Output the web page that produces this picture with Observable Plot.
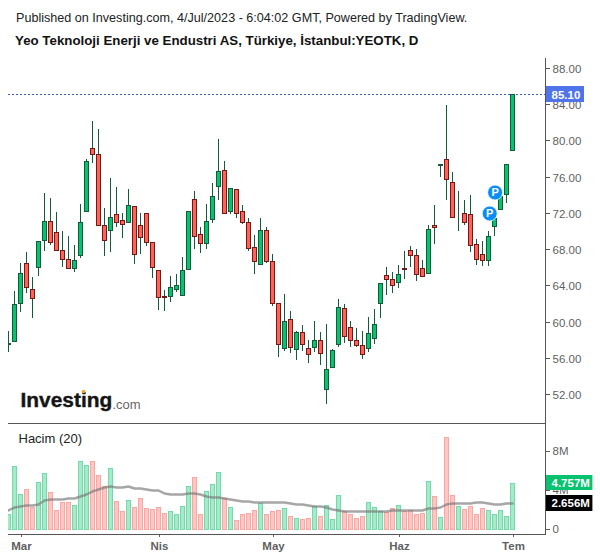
<!DOCTYPE html>
<html><head><meta charset="utf-8">
<script src="https://cdn.jsdelivr.net/npm/d3@7"></script>
<script src="https://cdn.jsdelivr.net/npm/@observablehq/plot@0.6"></script>
<style>
html,body{margin:0;padding:0;background:#fff;width:600px;overflow:hidden}
#head{height:56px;position:relative;font-family:"Liberation Sans",Arial,sans-serif;color:#222}
#l1{position:absolute;left:16px;top:11px;font-size:12.6px;white-space:nowrap}
#l2{position:absolute;left:15px;top:33px;font-size:13.3px;font-weight:bold;color:#111;white-space:nowrap}
svg{display:block}
</style></head><body>
<div id="head"><div id="l1">Published on Investing.com, 4/Jul/2023 - 6:04:02 GMT, Powered by TradingView.</div>
<div id="l2">Yeo Teknoloji Enerji ve Endustri AS, Türkiye, İstanbul:YEOTK, D</div></div>
<div id="price"></div><div id="vol"></div>
<script>
const opens=[57.54,57.84,62.03,66.44,63.57,65.98,68.98,71.08,69.87,67.88,66.89,65.96,67.39,72.18,79.14,78.48,70.64,70.09,71.85,71.19,70.97,72.73,70.64,71.96,68.76,65.67,62.84,62.87,63.64,62.98,65.78,73.50,69.65,68.65,71.30,74.94,76.71,72.18,74.61,72.18,70.97,68.21,66.33,70.09,66.66,62.03,57.06,60.26,56.95,58.83,57.06,57.17,57.94,52.54,54.96,57.50,61.48,59.38,57.94,57.39,57.06,58.17,62.03,65.12,64.68,64.35,65.87,67.88,67.33,65.89,65.34,70.64,77.29,77.92,75.39,71.85,71.96,71.85,68.54,67.44,66.84,70.53,72.47,74.06,78.92];
const highs=[59.00,63.38,66.48,67.66,64.93,68.91,74.20,73.65,72.11,70.00,69.46,68.46,72.99,77.96,82.15,81.27,72.55,75.86,74.87,72.00,74.65,72.77,72.00,72.00,68.80,65.71,63.50,65.04,65.26,67.14,72.22,74.43,70.45,72.99,75.27,80.16,77.73,74.76,74.65,72.88,71.44,69.57,71.44,70.45,67.44,62.06,63.06,61.15,58.94,59.63,57.98,60.08,58.83,59.75,56.95,62.47,61.92,60.04,59.27,58.97,60.52,61.37,64.27,66.04,65.48,66.26,67.80,68.35,68.02,66.81,70.67,72.88,77.40,83.91,76.52,74.43,73.43,73.98,69.13,68.91,70.00,72.22,74.20,77.40,85.10];
const lows=[56.69,57.81,61.10,63.20,60.44,65.08,67.80,68.46,67.80,66.04,65.81,65.48,67.06,72.16,77.51,70.62,67.28,67.72,70.48,69.27,70.95,66.40,67.50,68.39,64.85,61.29,61.18,62.21,63.31,62.95,65.67,68.06,67.61,68.06,70.93,73.46,71.94,71.92,71.48,70.81,67.84,65.30,66.31,66.44,61.76,56.13,56.80,56.58,55.80,56.80,55.47,56.69,55.25,50.95,54.94,57.17,57.62,57.24,57.17,55.85,56.69,57.57,60.44,62.98,63.20,63.75,64.71,66.07,64.52,64.99,65.32,68.57,75.97,73.43,71.55,70.04,70.70,67.72,66.29,66.18,66.18,69.46,72.44,73.13,78.90];
const closes=[57.65,61.92,65.34,63.86,62.65,68.87,71.08,68.83,67.95,66.89,65.96,66.78,70.97,77.70,78.48,70.64,68.98,71.52,70.97,70.75,72.85,67.44,69.31,68.76,66.00,62.76,62.76,63.80,64.02,65.67,72.18,69.42,68.65,71.08,73.84,76.60,71.96,74.72,71.96,70.97,68.10,66.66,70.09,66.66,62.03,57.50,60.04,57.17,58.83,57.50,56.40,57.94,56.51,54.75,56.84,61.59,58.39,57.94,57.39,56.40,58.72,59.71,64.24,64.68,64.02,65.23,65.81,67.33,65.23,65.01,70.20,70.42,77.37,75.78,71.59,71.92,71.04,68.50,66.95,66.84,69.42,71.44,73.87,77.37,85.10];
const volumes=[1.50,6.50,3.54,4.15,2.21,4.87,5.79,3.75,1.91,2.72,2.72,2.42,7.01,6.61,7.01,5.58,4.46,6.30,2.83,1.80,2.93,2.21,3.23,2.11,2.01,2.21,1.60,1.80,1.50,2.32,4.46,5.38,1.50,3.85,4.66,5.89,3.13,2.21,0.89,1.50,1.60,1.91,2.62,1.50,1.80,1.91,2.11,1.29,1.09,0.99,1.09,2.32,1.29,2.42,0.99,3.44,1.80,1.50,1.09,1.29,2.72,2.21,1.80,1.70,2.11,2.42,1.80,1.91,1.50,1.60,4.97,3.34,1.19,9.47,3.44,2.32,2.01,2.32,1.50,2.11,1.91,1.50,1.91,1.29,4.757];
const volumeAvg=[1.94,2.21,2.35,2.42,2.49,2.59,2.93,3.03,3.06,3.06,3.17,3.23,3.40,3.61,3.92,4.12,4.32,4.43,4.32,4.26,4.36,4.22,4.22,4.15,4.02,3.95,3.71,3.54,3.54,3.54,3.68,3.71,3.57,3.40,3.27,3.27,3.23,3.06,2.93,2.86,2.86,2.79,2.72,2.72,2.72,2.72,2.72,2.62,2.59,2.52,2.42,2.35,2.35,2.25,2.04,1.91,1.80,1.80,1.80,1.80,1.80,1.87,1.84,1.84,1.91,1.97,1.91,1.91,1.91,1.97,2.11,2.15,2.28,2.59,2.66,2.66,2.66,2.69,2.76,2.72,2.62,2.59,2.59,2.62,2.656];
const priceTicks=[88,84,80,76,72,68,64,60,56,52];
const volumeTicks=[0,4,8];
const monthIdx=[2,25,44,65,84];
const monthNames=["Mar","Nis","May","Haz","Tem"];
const lastPrice=85.10, lastVolume=4.757, lastAvg=2.656;
const pMarks=[{i:80.2,p:72.0},{i:81.1,p:74.3}];

const idx=d3.range(opens.length);
const candles=idx.map(i=>({i,o:opens[i],h:highs[i],l:lows[i],c:closes[i],v:volumes[i],a:volumeAvg[i],up:closes[i]>=opens[i]}));
const FONT='"Liberation Sans",Arial,sans-serif';
const xScale={type:"linear",domain:[0,84],range:[8,512]};
const bw=1/3;
const GREEN="#08c270",RED="#ff6259",GDARK="#125c3c",RDARK="#6f1a14",AXIS="#555",LABEL="#5f5f5f";

const price=Plot.plot({
  width:600,height:368,marginLeft:8,marginRight:55,marginTop:2,marginBottom:1,
  style:{background:"#fff",fontFamily:FONT,fontSize:"11px"},
  x:{...xScale,axis:null},
  y:{domain:[88,52],range:[12,338],round:true,axis:null},
  marks:[
    Plot.ruleY([lastPrice],{stroke:"#3b5bc0",strokeDasharray:"2,2",strokeWidth:1}),
    Plot.ruleX(candles,{x:"i",y1:"l",y2:"h",stroke:GDARK,strokeWidth:1,clip:true}),
    Plot.rect(candles,{x1:d=>d.i-bw,x2:d=>d.i+bw,y1:"o",y2:"c",fill:d=>d.up?GREEN:RED,stroke:d=>d.up?GDARK:RDARK,strokeWidth:1,dx:0.5,dy:0.5,clip:true}),
    Plot.dot(pMarks,{x:"i",y:"p",r:7.5,fill:"#0a8ef5",stroke:"#fff",strokeOpacity:0.8,strokeWidth:1}),
    Plot.text(pMarks,{x:"i",y:"p",text:()=>"P",fill:"#fff",fontWeight:"bold",fontSize:11}),
    Plot.text(["Investing"],{frameAnchor:"bottom-left",dx:12,dy:-17,textAnchor:"start",fontSize:20.9,fontWeight:"bold",fill:"#151515",stroke:"#151515",strokeWidth:0.4}),
    Plot.dot([0],{frameAnchor:"bottom-left",dx:75,dy:-32,r:1.8,fill:"#f7a823"}),
    Plot.text([".com"],{frameAnchor:"bottom-left",dx:104,dy:-15,textAnchor:"start",fontSize:13,fill:"#666"}),
    Plot.axisY({anchor:"right",ticks:priceTicks,tickFormat:()=>"",tickSize:4,color:AXIS,label:null}),
    Plot.axisY({anchor:"right",ticks:priceTicks,tickFormat:d=>d.toFixed(2),tickSize:0,tickPadding:7,dy:1,color:LABEL,label:null,fontSize:11.5}),
    Plot.rect([lastPrice],{x1:89.5,x2:96,y1:d=>d-0.86,y2:d=>d+0.86,fill:"#4f73e8"}),
    Plot.text([lastPrice],{x:90.5,y:d=>d,dy:1,text:d=>d.toFixed(2),fill:"#fff",fontSize:11.5,fontWeight:"600",textAnchor:"start"}),
    Plot.frame({anchor:"right",stroke:AXIS}),
    Plot.frame({anchor:"bottom",stroke:AXIS})
  ]
});
document.getElementById("price").append(price);

const vol=Plot.plot({
  width:600,height:134,marginLeft:8,marginRight:55,marginTop:0,marginBottom:24,
  style:{background:"#fff",fontFamily:FONT,fontSize:"11px"},
  x:{...xScale},
  y:{domain:[0,8],range:[105,27],round:true,axis:null},
  marks:[
    Plot.rect(candles,{x1:d=>d.i-bw,x2:d=>d.i+bw,y1:0,y2:"v",fill:d=>d.up?"#a6eac9":"#ffc6c3",stroke:d=>d.up?"#70dcab":"#fca6a1",strokeWidth:1,dx:0.5,dy:0.5,clip:true}),
    Plot.line(candles,{x:"i",y:"a",stroke:"#777",strokeOpacity:0.65,strokeWidth:2.5,curve:"linear",clip:true}),
    Plot.text(["Hacim (20)"],{frameAnchor:"top-left",dx:10,dy:9,textAnchor:"start",lineAnchor:"top",fontSize:13,fill:"#222"}),
    Plot.axisX({ticks:monthIdx,tickFormat:d=>monthNames[monthIdx.indexOf(d)],tickSize:3,tickPadding:4,color:LABEL,label:null,fontSize:11.5,fontWeight:"bold",dx:1}),
    Plot.axisY({anchor:"right",ticks:volumeTicks,tickFormat:d=>d===0?"0":d+"M",tickSize:4,tickPadding:3,color:LABEL,label:null,fontSize:11.5}),
    Plot.rect([lastVolume],{x1:89.5,x2:97.4,y1:d=>d-0.785,y2:d=>d+0.785,fill:GREEN}),
    Plot.text([lastVolume],{x:90.5,y:d=>d,text:d=>d.toFixed(3)+"M",fill:"#fff",fontSize:11.5,fontWeight:"600",textAnchor:"start"}),
    Plot.rect([lastAvg],{x1:89.5,x2:97.4,y1:d=>d-0.785,y2:d=>d+0.785,fill:"#000"}),
    Plot.text([lastAvg],{x:90.5,y:d=>d,text:d=>d.toFixed(3)+"M",fill:"#fff",fontSize:11.5,fontWeight:"600",textAnchor:"start"}),
    Plot.frame({anchor:"right",stroke:AXIS}),
    Plot.frame({anchor:"bottom",stroke:AXIS})
  ]
});
document.getElementById("vol").append(vol);
</script>
</body></html>
